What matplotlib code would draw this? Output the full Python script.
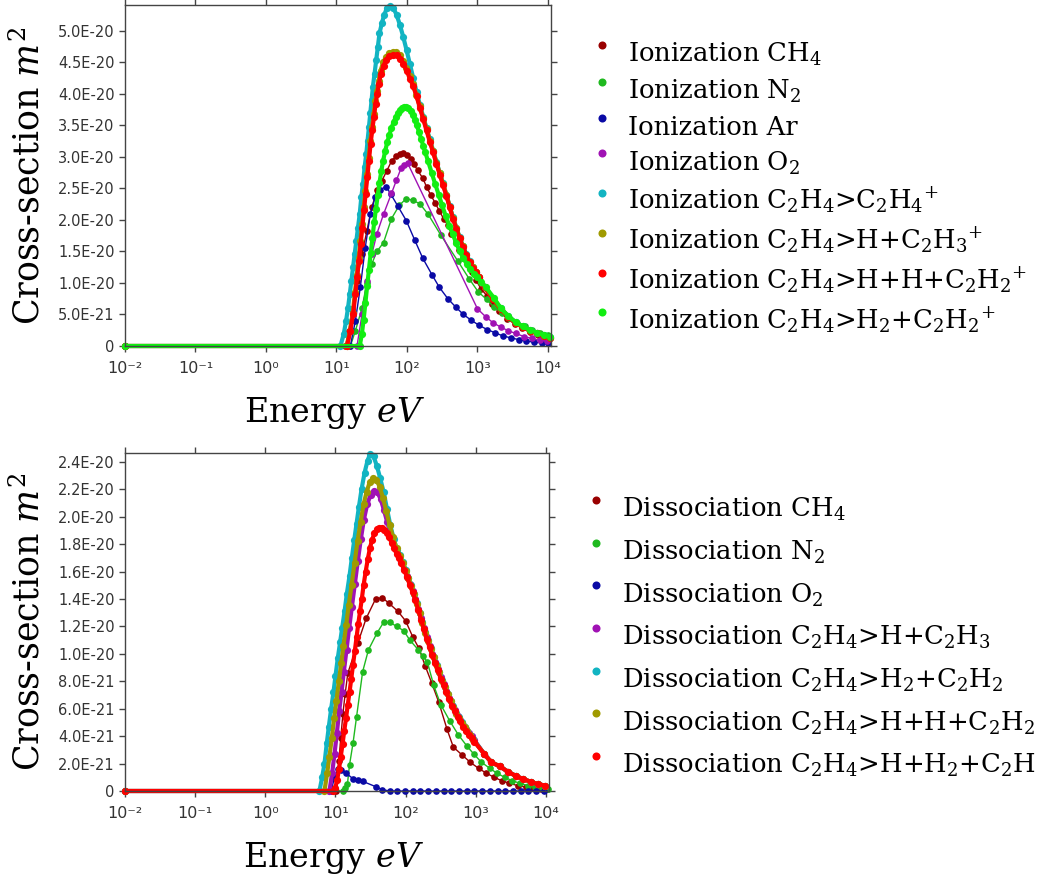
import numpy as np
import matplotlib
matplotlib.use("Agg")
import matplotlib.pyplot as plt
from matplotlib.lines import Line2D
from matplotlib.ticker import FixedLocator, FixedFormatter, NullLocator
from matplotlib.legend_handler import HandlerLine2D

# ---------------- data: (log10 of energy in eV, cross-section in 1e-20 m^2) ----------------
# Ionization
ion_ch4 = [(-2, 0), (1.127, 0), (1.174, 0.24), (1.221, 0.58), (1.291, 1.03), (1.362, 1.46), (1.432, 1.83),
           (1.502, 2.20), (1.573, 2.47), (1.643, 2.62), (1.714, 2.78), (1.784, 2.94), (1.85, 3.02), (1.90, 3.05),
           (1.94, 3.06), (2.00, 3.03), (2.05, 2.97), (2.10, 2.88), (2.15, 2.79), (2.225, 2.66), (2.28, 2.52),
           (2.34, 2.39), (2.40, 2.27), (2.46, 2.14), (2.52, 2.02), (2.58, 1.92), (2.63, 1.78), (2.69, 1.65),
           (2.74, 1.52), (2.80, 1.40), (2.86, 1.28), (2.92, 1.17), (2.98, 1.04), (3.05, 0.91), (3.13, 0.80),
           (3.21, 0.67), (3.31, 0.56), (3.42, 0.43), (3.53, 0.35), (3.63, 0.29), (3.75, 0.22), (3.86, 0.17),
           (3.96, 0.13)]
ion_n2 = [(-2, 0), (1.197, 0), (1.268, 0.24), (1.362, 0.60), (1.43, 1.00), (1.50, 1.30), (1.573, 1.50),
          (1.667, 1.64), (1.78, 2.02), (1.89, 2.23), (1.99, 2.34), (2.08, 2.31), (2.18, 2.26), (2.30, 2.09),
          (2.48, 1.76), (2.72, 1.35), (2.88, 1.07), (3.01, 0.86), (3.13, 0.74), (3.23, 0.62), (3.35, 0.52),
          (3.45, 0.44), (3.56, 0.37), (3.67, 0.31), (3.78, 0.26), (3.89, 0.21), (4.0, 0.17)]
ion_ar = [(-2, 0), (1.197, 0), (1.268, 0.40), (1.338, 0.93), (1.408, 1.56), (1.479, 2.09), (1.549, 2.36),
          (1.620, 2.48), (1.704, 2.53), (1.77, 2.41), (1.87, 2.22), (1.99, 1.99), (2.11, 1.68), (2.225, 1.39),
          (2.36, 1.12), (2.46, 0.93), (2.58, 0.75), (2.69, 0.62), (2.80, 0.50), (2.91, 0.41), (3.02, 0.33),
          (3.14, 0.26), (3.25, 0.21), (3.36, 0.16), (3.47, 0.13), (3.59, 0.10), (3.69, 0.08), (3.80, 0.06),
          (3.91, 0.05), (4.0, 0.05)]
ion_o2 = [(-2, 0), (1.291, 0), (1.362, 0.50), (1.432, 1.03), (1.502, 1.46), (1.573, 1.78), (1.667, 2.09),
          (1.78, 2.42), (1.85, 2.63), (1.92, 2.83), (1.96, 2.87), (2.01, 2.90), (3.0, 0.59), (3.12, 0.46),
          (3.22, 0.37), (3.33, 0.30), (3.44, 0.24), (3.54, 0.20), (3.66, 0.15), (3.77, 0.12), (3.88, 0.09),
          (3.99, 0.08)]
ion_c2h4 = [(-2, 0), (1.056, 0), (1.103, 0.19), (1.136, 0.40), (1.164, 0.61), (1.188, 0.82), (1.211, 1.03),
            (1.235, 1.25), (1.258, 1.46), (1.282, 1.67), (1.305, 1.88), (1.329, 2.09), (1.352, 2.36),
            (1.376, 2.57), (1.399, 2.84), (1.423, 3.05), (1.441, 3.26), (1.460, 3.47), (1.479, 3.69),
            (1.498, 3.90), (1.516, 4.11), (1.540, 4.32), (1.563, 4.53), (1.587, 4.75), (1.610, 4.96),
            (1.643, 5.12), (1.676, 5.25), (1.714, 5.36), (1.761, 5.39), (1.808, 5.36), (1.854, 5.25),
            (1.901, 5.09), (1.948, 4.90), (1.995, 4.69), (2.042, 4.47), (2.089, 4.25), (2.136, 4.03),
            (2.183, 3.83), (2.230, 3.64), (2.277, 3.46), (2.324, 3.28), (2.371, 3.10), (2.418, 2.92),
            (2.465, 2.75), (2.512, 2.58), (2.559, 2.40), (2.606, 2.22), (2.653, 2.04), (2.700, 1.88),
            (2.746, 1.73), (2.793, 1.59), (2.840, 1.46), (2.887, 1.35), (2.934, 1.26), (2.981, 1.18),
            (3.028, 1.10), (3.10, 0.94), (3.22, 0.76), (3.33, 0.60), (3.44, 0.47), (3.54, 0.38), (3.64, 0.31),
            (3.75, 0.25), (3.85, 0.21), (3.95, 0.17), (4.03, 0.14)]
ion_c2h3 = [(-2, 0), (1.145, 0), (1.19, 0.24), (1.23, 0.52), (1.262, 0.85), (1.287, 1.12), (1.315, 1.40),
            (1.339, 1.67), (1.362, 1.93), (1.386, 2.20), (1.409, 2.46), (1.433, 2.73), (1.456, 2.99),
            (1.480, 3.26), (1.503, 3.47), (1.527, 3.68), (1.550, 3.89), (1.574, 4.05), (1.597, 4.21),
            (1.625, 4.37), (1.663, 4.50), (1.700, 4.58), (1.747, 4.65), (1.804, 4.67), (1.850, 4.66),
            (1.897, 4.61), (1.944, 4.52), (1.991, 4.41), (2.038, 4.28), (2.085, 4.15), (2.132, 3.99),
            (2.179, 3.81), (2.230, 3.62), (2.277, 3.44), (2.324, 3.26), (2.371, 3.09), (2.418, 2.91),
            (2.465, 2.74), (2.512, 2.57), (2.559, 2.40), (2.606, 2.21), (2.653, 2.03), (2.700, 1.87),
            (2.746, 1.72), (2.793, 1.58), (2.840, 1.45), (2.887, 1.34), (2.934, 1.25), (2.981, 1.18),
            (3.028, 1.10), (3.10, 0.93), (3.22, 0.75), (3.33, 0.59), (3.44, 0.46), (3.54, 0.37), (3.64, 0.30),
            (3.75, 0.24), (3.85, 0.20), (3.95, 0.16), (4.03, 0.13)]
ion_c2h2_hh = [(-2, 0), (1.150, 0), (1.197, 0.24), (1.235, 0.50), (1.268, 0.82), (1.291, 1.09), (1.319, 1.35),
               (1.343, 1.62), (1.366, 1.88), (1.390, 2.15), (1.413, 2.41), (1.437, 2.68), (1.460, 2.94),
               (1.484, 3.21), (1.507, 3.42), (1.531, 3.63), (1.554, 3.84), (1.578, 4.00), (1.601, 4.16),
               (1.629, 4.32), (1.667, 4.45), (1.704, 4.53), (1.751, 4.60), (1.808, 4.62), (1.854, 4.61),
               (1.901, 4.56), (1.948, 4.48), (1.995, 4.37), (2.042, 4.24), (2.089, 4.12), (2.136, 3.96),
               (2.183, 3.78), (2.230, 3.60), (2.277, 3.42), (2.324, 3.24), (2.371, 3.07), (2.418, 2.89),
               (2.465, 2.72), (2.512, 2.55), (2.559, 2.38), (2.606, 2.20), (2.653, 2.02), (2.700, 1.86),
               (2.746, 1.71), (2.793, 1.57), (2.840, 1.44), (2.887, 1.33), (2.934, 1.24), (2.981, 1.17),
               (3.028, 1.10), (3.10, 0.93), (3.22, 0.75), (3.33, 0.59), (3.44, 0.46), (3.54, 0.37),
               (3.64, 0.30), (3.75, 0.24), (3.85, 0.20), (3.95, 0.16), (4.03, 0.13)]
ion_c2h2_h2 = [(-2, 0), (1.33, 0), (1.36, 0.19), (1.385, 0.42), (1.41, 0.68), (1.435, 0.95), (1.46, 1.21),
               (1.485, 1.47), (1.51, 1.72), (1.535, 1.96), (1.56, 2.18), (1.585, 2.39), (1.61, 2.59),
               (1.635, 2.77), (1.66, 2.93), (1.69, 3.09), (1.72, 3.23), (1.75, 3.35), (1.78, 3.46), (1.81, 3.55),
               (1.84, 3.63), (1.87, 3.69), (1.90, 3.74), (1.93, 3.77), (1.96, 3.79), (1.99, 3.79), (2.02, 3.77),
               (2.05, 3.73), (2.08, 3.67), (2.11, 3.59), (2.14, 3.50), (2.17, 3.40), (2.20, 3.29), (2.23, 3.18),
               (2.26, 3.07), (2.30, 2.93), (2.35, 2.75), (2.40, 2.57), (2.45, 2.40), (2.50, 2.23), (2.55, 2.06),
               (2.60, 1.91), (2.65, 1.77), (2.70, 1.63), (2.75, 1.50), (2.80, 1.39), (2.85, 1.30), (2.90, 1.22),
               (2.95, 1.15), (3.00, 1.09), (3.05, 1.02), (3.12, 0.93), (3.235, 0.76), (3.33, 0.60),
               (3.44, 0.47), (3.54, 0.38), (3.64, 0.31), (3.75, 0.25), (3.85, 0.21), (3.95, 0.17), (4.03, 0.14)]

# Dissociation
dis_ch4 = [(-2, 0), (1.010, 0), (1.048, 0.22), (1.076, 0.39), (1.105, 0.56), (1.138, 0.71), (1.176, 0.86),
           (1.319, 1.08), (1.438, 1.26), (1.571, 1.40), (1.667, 1.41), (1.76, 1.37), (1.89, 1.31), (2.0, 1.24),
           (2.105, 1.12), (2.19, 1.04), (2.28, 0.91), (2.37, 0.79), (2.47, 0.65), (2.59, 0.45), (2.68, 0.32),
           (2.81, 0.26), (2.92, 0.21), (3.04, 0.165), (3.15, 0.13), (3.26, 0.10), (3.37, 0.075), (3.48, 0.056),
           (3.60, 0.039), (3.71, 0.029), (3.81, 0.022), (3.93, 0.015), (4.02, 0.012)]
dis_n2 = [(-2, 0), (1.10, 0), (1.13, 0.02), (1.17, 0.05), (1.20, 0.19), (1.25, 0.35), (1.30, 0.54), (1.387, 0.87),
          (1.47, 1.03), (1.59, 1.15), (1.685, 1.23), (1.78, 1.23), (1.87, 1.20), (1.97, 1.17), (2.06, 1.10),
          (2.18, 1.03), (2.245, 0.985), (2.31, 0.94), (2.40, 0.77), (2.50, 0.63), (2.63, 0.51), (2.75, 0.41),
          (2.87, 0.33), (2.97, 0.27), (3.08, 0.21), (3.20, 0.165), (3.30, 0.13), (3.41, 0.10), (3.52, 0.075),
          (3.63, 0.056), (3.74, 0.039), (3.85, 0.027), (3.95, 0.019), (4.03, 0.015)]
dis_o2 = [(-2, 0), (0.938, 0), (0.986, 0.10), (1.033, 0.16), (1.081, 0.15), (1.152, 0.13), (1.248, 0.09),
          (1.319, 0.08), (1.390, 0.07), (1.581, 0.03), (1.667, 0.01), (1.771, 0), (1.88, 0), (1.99, 0),
          (2.10, 0), (2.21, 0), (2.32, 0), (2.43, 0), (2.54, 0), (2.65, 0), (2.76, 0), (2.87, 0), (2.98, 0),
          (3.09, 0), (3.20, 0), (3.31, 0), (3.42, 0), (3.53, 0), (3.64, 0), (3.75, 0), (3.86, 0), (3.97, 0)]
dis_c2h3 = [(-2, 0), (0.914, 0), (0.952, 0.13), (0.986, 0.27), (1.019, 0.42), (1.052, 0.58), (1.086, 0.72),
            (1.119, 0.87), (1.157, 1.03), (1.195, 1.19), (1.233, 1.34), (1.276, 1.51), (1.319, 1.68),
            (1.362, 1.84), (1.405, 1.98), (1.452, 2.09), (1.500, 2.16), (1.548, 2.19), (1.595, 2.18),
            (1.643, 2.13), (1.69, 2.05), (1.738, 1.96), (1.795, 1.85), (1.85, 1.77), (1.90, 1.71), (1.94, 1.67),
            (1.98, 1.62), (2.02, 1.57), (2.06, 1.51), (2.10, 1.46), (2.14, 1.40), (2.18, 1.33), (2.22, 1.26),
            (2.26, 1.19), (2.30, 1.12), (2.34, 1.06), (2.38, 1.00), (2.42, 0.94), (2.46, 0.89), (2.50, 0.83),
            (2.54, 0.78), (2.58, 0.73), (2.62, 0.68), (2.66, 0.63), (2.70, 0.59), (2.74, 0.55), (2.78, 0.52),
            (2.82, 0.48), (2.86, 0.45), (2.90, 0.42), (2.94, 0.40), (2.98, 0.37), (3.12, 0.27), (3.22, 0.21),
            (3.34, 0.18), (3.46, 0.14), (3.57, 0.11), (3.67, 0.088), (3.78, 0.068), (3.88, 0.051), (3.99, 0.039)]
dis_c2h2_h2 = [(-2, 0), (0.771, 0), (0.810, 0.10), (0.843, 0.20), (0.876, 0.35), (0.905, 0.47), (0.938, 0.60),
               (0.971, 0.72), (1.000, 0.84), (1.033, 0.97), (1.067, 1.09), (1.095, 1.19), (1.129, 1.31),
               (1.162, 1.44), (1.200, 1.57), (1.233, 1.70), (1.267, 1.83), (1.300, 1.95), (1.333, 2.07),
               (1.371, 2.20), (1.414, 2.32), (1.457, 2.41), (1.495, 2.46), (1.543, 2.44), (1.59, 2.37),
               (1.638, 2.28), (1.686, 2.18), (1.733, 2.06), (1.781, 1.94), (1.829, 1.84), (1.876, 1.76),
               (1.92, 1.72), (1.96, 1.67), (2.00, 1.61), (2.04, 1.555), (2.08, 1.50), (2.12, 1.44), (2.16, 1.37),
               (2.20, 1.30), (2.24, 1.23), (2.28, 1.16), (2.32, 1.10), (2.36, 1.04), (2.40, 0.98), (2.44, 0.92),
               (2.48, 0.87), (2.52, 0.81), (2.56, 0.76), (2.60, 0.71), (2.64, 0.66), (2.68, 0.62), (2.72, 0.57),
               (2.76, 0.54), (2.80, 0.50), (2.84, 0.47), (2.88, 0.44), (2.92, 0.41), (2.96, 0.38), (3.12, 0.27),
               (3.22, 0.21), (3.34, 0.18), (3.46, 0.14), (3.57, 0.11), (3.67, 0.088), (3.78, 0.068),
               (3.88, 0.051), (3.99, 0.039)]
dis_c2h2_hh = [(-2, 0), (0.843, 0), (0.881, 0.13), (0.914, 0.25), (0.948, 0.39), (0.981, 0.53), (1.014, 0.66),
               (1.048, 0.80), (1.081, 0.93), (1.114, 1.06), (1.152, 1.21), (1.190, 1.36), (1.229, 1.50),
               (1.271, 1.66), (1.314, 1.82), (1.357, 1.96), (1.400, 2.09), (1.443, 2.18), (1.486, 2.25),
               (1.533, 2.28), (1.581, 2.27), (1.629, 2.22), (1.676, 2.14), (1.724, 2.04), (1.771, 1.94),
               (1.82, 1.85), (1.87, 1.77), (1.92, 1.715), (1.96, 1.665), (2.00, 1.605), (2.04, 1.55),
               (2.08, 1.495), (2.12, 1.435), (2.16, 1.365), (2.20, 1.295), (2.24, 1.225), (2.28, 1.155),
               (2.32, 1.095), (2.36, 1.035), (2.40, 0.975), (2.44, 0.915), (2.48, 0.865), (2.52, 0.805),
               (2.56, 0.755), (2.60, 0.705), (2.64, 0.655), (2.68, 0.615), (2.72, 0.565), (2.76, 0.535),
               (2.80, 0.495), (2.84, 0.465), (2.88, 0.435), (2.92, 0.405), (2.96, 0.375), (3.12, 0.27),
               (3.22, 0.21), (3.34, 0.18), (3.46, 0.14), (3.57, 0.11), (3.67, 0.088), (3.78, 0.068),
               (3.88, 0.051), (3.99, 0.039)]
dis_c2h = [(-2, 0), (0.962, 0), (0.995, 0.02), (1.024, 0.08), (1.05, 0.16), (1.075, 0.25), (1.10, 0.34),
           (1.125, 0.44), (1.15, 0.53), (1.175, 0.63), (1.20, 0.72), (1.225, 0.82), (1.25, 0.92), (1.275, 1.02),
           (1.30, 1.12), (1.325, 1.22), (1.35, 1.31), (1.375, 1.40), (1.40, 1.50), (1.43, 1.60), (1.46, 1.69),
           (1.49, 1.77), (1.52, 1.83), (1.555, 1.88), (1.59, 1.91), (1.625, 1.92), (1.66, 1.92), (1.695, 1.90),
           (1.73, 1.88), (1.765, 1.85), (1.80, 1.81), (1.835, 1.77), (1.87, 1.73), (1.90, 1.70), (1.94, 1.66),
           (1.98, 1.61), (2.02, 1.56), (2.06, 1.50), (2.10, 1.45), (2.14, 1.39), (2.18, 1.32), (2.22, 1.25),
           (2.26, 1.18), (2.30, 1.11), (2.34, 1.05), (2.38, 0.99), (2.42, 0.93), (2.46, 0.88), (2.50, 0.82),
           (2.54, 0.77), (2.58, 0.72), (2.62, 0.67), (2.66, 0.62), (2.70, 0.58), (2.74, 0.54), (2.78, 0.51),
           (2.82, 0.47), (2.86, 0.44), (2.90, 0.41), (2.94, 0.39), (2.98, 0.36), (3.12, 0.27), (3.22, 0.21),
           (3.34, 0.18), (3.46, 0.14), (3.57, 0.11), (3.67, 0.088), (3.78, 0.068), (3.88, 0.051), (3.99, 0.039)]

ion_labels = ["Ionization CH$_4$", "Ionization N$_2$", "Ionization Ar", "Ionization O$_2$",
              "Ionization C$_2$H$_4$>C$_2$H$_4{}^{+}$", "Ionization C$_2$H$_4$>H+C$_2$H$_3{}^{+}$",
              "Ionization C$_2$H$_4$>H+H+C$_2$H$_2{}^{+}$", "Ionization C$_2$H$_4$>H$_2$+C$_2$H$_2{}^{+}$"]
dis_labels = ["Dissociation CH$_4$", "Dissociation N$_2$", "Dissociation O$_2$",
              "Dissociation C$_2$H$_4$>H+C$_2$H$_3$", "Dissociation C$_2$H$_4$>H$_2$+C$_2$H$_2$",
              "Dissociation C$_2$H$_4$>H+H+C$_2$H$_2$", "Dissociation C$_2$H$_4$>H+H$_2$+C$_2$H"]

xtick_values = [1e-2, 1e-1, 1e0, 1e1, 1e2, 1e3, 1e4]
xtick_labels = ["10\u207b\u00b2", "10\u207b\u00b9", "10\u2070", "10\u00b9", "10\u00b2", "10\u00b3", "10\u2074"]
ion_yticks = [0, 0.5e-20, 1.0e-20, 1.5e-20, 2.0e-20, 2.5e-20, 3.0e-20, 3.5e-20, 4.0e-20, 4.5e-20, 5.0e-20]
ion_ytick_labels = ["0", "5.0E-21", "1.0E-20", "1.5E-20", "2.0E-20", "2.5E-20", "3.0E-20", "3.5E-20",
                    "4.0E-20", "4.5E-20", "5.0E-20"]
dis_yticks = [0, 0.2e-20, 0.4e-20, 0.6e-20, 0.8e-20, 1.0e-20, 1.2e-20, 1.4e-20, 1.6e-20, 1.8e-20, 2.0e-20,
              2.2e-20, 2.4e-20]
dis_ytick_labels = ["0", "2.0E-21", "4.0E-21", "6.0E-21", "8.0E-21", "1.0E-20", "1.2E-20", "1.4E-20",
                    "1.6E-20", "1.8E-20", "2.0E-20", "2.2E-20", "2.4E-20"]

MAROON, MGREEN, BLUE, PURPLE = "#990000", "#1FB91F", "#0A0AA5", "#A012B4"
CYAN, OLIVE, RED, LGREEN = "#12B4C2", "#A09A00", "#FF0000", "#12EE12"

ion_series = [(ion_ch4, MAROON, False), (ion_n2, MGREEN, False), (ion_ar, BLUE, False), (ion_o2, PURPLE, False),
              (ion_c2h4, CYAN, True), (ion_c2h3, OLIVE, True), (ion_c2h2_hh, RED, True),
              (ion_c2h2_h2, LGREEN, True)]
dis_series = [(dis_ch4, MAROON, False), (dis_n2, MGREEN, False), (dis_o2, BLUE, False),
              (dis_c2h3, PURPLE, True), (dis_c2h2_h2, CYAN, True), (dis_c2h2_hh, OLIVE, True),
              (dis_c2h, RED, True)]

# ---------------- figure ----------------
plt.rcParams["mathtext.fontset"] = "dejavuserif"
W, H = 1041, 882
fig = plt.figure(figsize=(W / 100, H / 100), dpi=100)
SERIF = "DejaVu Serif"
TICKC = "#333333"
LEGSIZE = 18.6


def px_axes(l, t, r, b):
    return fig.add_axes([l / W, 1 - b / H, (r - l) / W, (b - t) / H])


class RaisedDot(HandlerLine2D):
    def create_artists(self, legend, orig_handle, xdescent, ydescent, width, height, fontsize, trans):
        arts = super().create_artists(legend, orig_handle, xdescent, ydescent, width, height, fontsize, trans)
        for a in arts:
            a.set_ydata([y + 0.45 * height for y in a.get_ydata()])
        return arts


def draw_panel(ax, series, ymax, yticks, ylabels, labels, leg_xy, leg_spacing):
    for data, col, dense in series:
        lx, sy = zip(*data)
        e = 10.0 ** np.array(lx)
        s = np.array(sy) * 1e-20
        if dense:
            ax.plot(e, s, color=col, lw=3.0, marker="o", ms=5.2, mew=0, clip_on=False, solid_capstyle="round")
        else:
            ax.plot(e, s, color=col, lw=1.0, marker="o", ms=4.8, mew=0, clip_on=False)
    ax.set_xscale("log")
    ax.set_xlim(1e-2, 10 ** 4.043)
    ax.set_ylim(0, ymax)
    ax.xaxis.set_major_locator(FixedLocator(xtick_values))
    ax.xaxis.set_major_formatter(FixedFormatter(xtick_labels))
    ax.xaxis.set_minor_locator(NullLocator())
    ax.yaxis.set_major_locator(FixedLocator(yticks))
    ax.yaxis.set_major_formatter(FixedFormatter(ylabels))
    ax.tick_params(axis="both", which="major", direction="out", length=4.5, width=1, color="#444444",
                   labelcolor=TICKC, top=True, right=True)
    ax.tick_params(axis="x", pad=6, labelsize=11.5)
    ax.tick_params(axis="y", pad=3, labelsize=10.5)
    for sp in ax.spines.values():
        sp.set_color("#444444")
        sp.set_linewidth(1.0)
    ax.set_ylabel("Cross-section $m^2$", family=SERIF, fontsize=25)
    ax.yaxis.set_label_coords(-0.185, 0.5)
    ax.set_xlabel("Energy $eV$", family=SERIF, fontsize=24, va="top")
    ax.xaxis.set_label_coords(0.493, -0.145)
    handles = [Line2D([], [], ls="none", marker="o", ms=5.8, mew=0, color=c) for _, c, _ in series]
    ax.legend(handles, labels, loc="upper left", bbox_to_anchor=(leg_xy[0] / W, 1 - leg_xy[1] / H),
              bbox_transform=fig.transFigure, frameon=False, borderpad=0, borderaxespad=0,
              handlelength=1.0, handletextpad=0.5, labelspacing=leg_spacing,
              prop={"family": SERIF, "size": LEGSIZE}, handler_map={Line2D: RaisedDot()})


ax1 = px_axes(125, 5, 551, 346)
draw_panel(ax1, ion_series, 5.41e-20, ion_yticks, ion_ytick_labels, ion_labels, (589, 41), 0.375)
ax2 = px_axes(125, 453, 549, 791)
draw_panel(ax2, dis_series, 2.465e-20, dis_yticks, dis_ytick_labels, dis_labels, (583, 496), 0.60)

fig.savefig("out.png", dpi=100)
